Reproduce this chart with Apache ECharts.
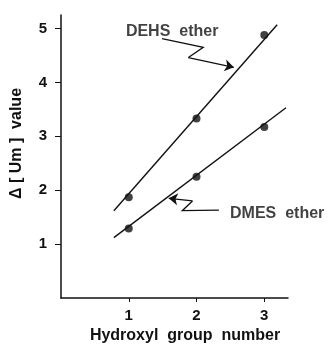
<!DOCTYPE html>
<html>
<head>
<meta charset="utf-8">
<script src="https://cdn.jsdelivr.net/npm/echarts@6/dist/echarts.min.js"></script>
<style>
  html, body { margin: 0; padding: 0; background: #fff; }
  #main { width: 328px; height: 355px; }
</style>
</head>
<body>
<div id="main"></div>
<script>
// data
var hydroxyl = [1, 2, 3];
var dehsValues = [1.87, 3.33, 4.88];
var dmesValues = [1.29, 2.25, 3.17];
// fitted lines, start and end points
var dehsFit = [[0.78, 1.62], [3.19, 5.07]];
var dmesFit = [[0.78, 1.12], [3.32, 3.53]];
// zigzag pointers to the lines (last segment carries the arrow head)
var dehsArrow = [[1.49, 4.81], [2.10, 4.65], [1.88, 4.46], [2.55, 4.28]];
var dmesArrow = [[2.33, 1.63], [1.79, 1.62], [1.94, 1.80], [1.59, 1.85]];
var labelNames = ["DEHS  ether", "DMES  ether"];
var labelAt = [[1.64, 4.95], [3.19, 1.57]];
var xTicks = [1, 2, 3];
var yTicks = [1, 2, 3, 4, 5];

var ink = "#111";
var font = "Liberation Sans, Arial, sans-serif";

var chart = echarts.init(document.getElementById("main"));

function points(values) {
  return hydroxyl.map(function (x, i) {
    return [x, values[i]];
  });
}

var arrows = [dehsArrow, dmesArrow];

chart.setOption({
  animation: false,
  grid: { left: 61, right: 40, top: 15, bottom: 57 },
  xAxis: {
    type: "value",
    min: 0,
    max: 3.35,
    name: "Hydroxyl  group  number",
    nameLocation: "middle",
    nameGap: 27,
    nameTextStyle: {
      color: ink, fontFamily: font, fontWeight: "bold", fontSize: 16,
      padding: [0, 0, 0, 21]
    },
    axisLine: { lineStyle: { color: ink, width: 1.5 } },
    axisTick: { show: true, length: 4, customValues: xTicks, lineStyle: { color: ink } },
    axisLabel: {
      customValues: xTicks, margin: 10,
      color: ink, fontFamily: font, fontWeight: "bold", fontSize: 15
    },
    splitLine: { show: false }
  },
  yAxis: {
    type: "value",
    min: 0,
    max: 5.25,
    name: "Δ [ Um ]  value",
    nameLocation: "middle",
    nameGap: 36,
    nameTextStyle: {
      color: ink, fontFamily: font, fontWeight: "bold", fontSize: 16,
      padding: [0, 0, 0, 26]
    },
    axisLine: { show: true, lineStyle: { color: ink, width: 1.5 } },
    axisTick: { show: true, length: 6, customValues: yTicks, lineStyle: { color: ink } },
    axisLabel: {
      customValues: yTicks, margin: 14,
      color: ink, fontFamily: font, fontWeight: "bold", fontSize: 15
    },
    splitLine: { show: false }
  },
  series: [
    {
      name: "DEHS ether",
      type: "scatter",
      data: points(dehsValues),
      symbolSize: 8,
      itemStyle: { color: ink }
    },
    {
      name: "DMES ether",
      type: "scatter",
      data: points(dmesValues),
      symbolSize: 8,
      itemStyle: { color: ink }
    },
    {
      type: "line",
      data: dehsFit,
      symbol: "none",
      lineStyle: { color: ink, width: 1.4 }
    },
    {
      type: "line",
      data: dmesFit,
      symbol: "none",
      lineStyle: { color: ink, width: 1.4 }
    },
    {
      type: "lines",
      coordinateSystem: "cartesian2d",
      polyline: true,
      lineStyle: { color: ink, width: 1.3, opacity: 1 },
      data: arrows.map(function (a) {
        return { coords: a.slice(0, 3) };
      })
    },
    {
      type: "lines",
      coordinateSystem: "cartesian2d",
      symbol: ["none", "arrow"],
      symbolSize: [6, 9],
      lineStyle: { color: ink, width: 1.3, opacity: 1 },
      data: arrows.map(function (a) {
        return { coords: a.slice(2, 4) };
      })
    },
    {
      type: "scatter",
      symbolSize: 0,
      silent: true,
      data: labelNames.map(function (n, i) {
        return { name: n, value: labelAt[i] };
      }),
      label: {
        show: true,
        position: "inside",
        formatter: "{b}",
        color: ink, fontFamily: font, fontWeight: "bold", fontSize: 16
      }
    }
  ]
});
</script>
</body>
</html>
